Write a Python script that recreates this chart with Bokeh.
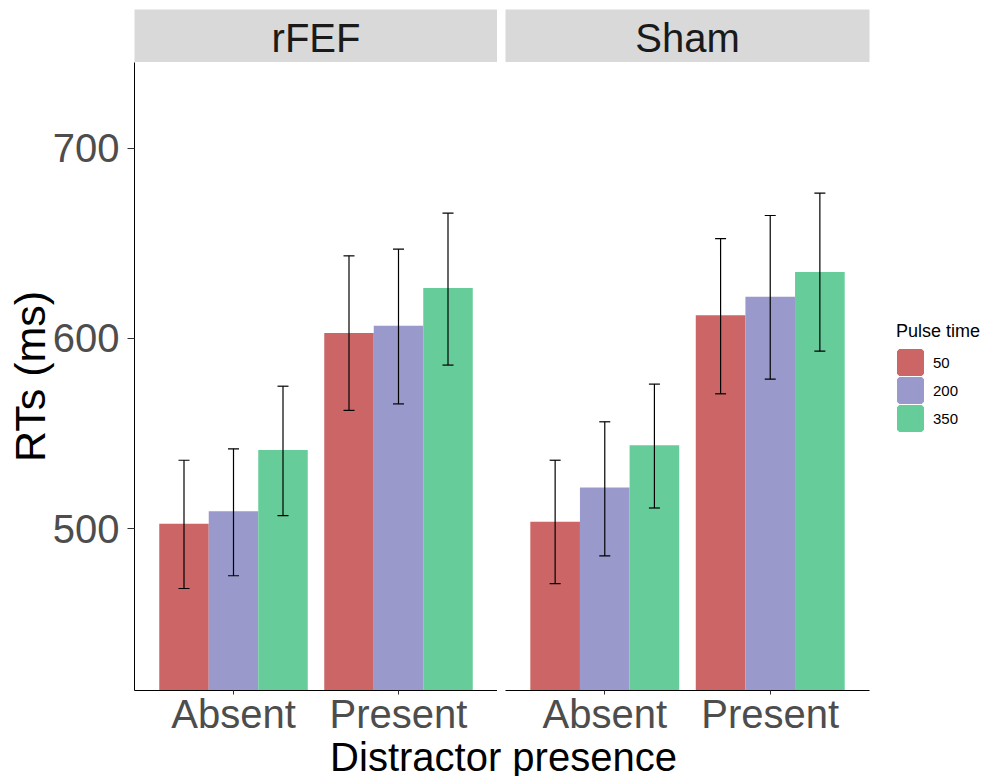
from bokeh.plotting import figure
from bokeh.models import (ColumnDataSource, FactorRange, Range1d, Whisker, TeeHead,
                          Legend, LegendItem)
from bokeh.transform import dodge
from bokeh.layouts import column, row
from bokeh.embed import file_html
from bokeh.resources import INLINE
from bokeh.core.properties import value

# ---------------- data ----------------
panels = ["rFEF", "Sham"]
distractor = ["Absent", "Present"]
pulse_times = ["50", "200", "350"]
pulse_colors = ["#CC6666", "#9999CC", "#66CC99"]
y_ticks = [500, 600, 700]
y_limits = [415, 745]

# mean RT per pulse time, values for [Absent, Present]
rfef_mean_50 = [502.6, 602.8]
rfef_mean_200 = [509.2, 606.7]
rfef_mean_350 = [541.4, 626.5]
rfef_upper_50 = [536.0, 643.4]
rfef_upper_200 = [542.0, 646.9]
rfef_upper_350 = [574.9, 665.8]
rfef_lower_50 = [468.6, 562.2]
rfef_lower_200 = [475.3, 565.6]
rfef_lower_350 = [506.9, 586.0]

sham_mean_50 = [503.7, 612.2]
sham_mean_200 = [521.7, 621.9]
sham_mean_350 = [543.9, 634.9]
sham_upper_50 = [536.0, 652.5]
sham_upper_200 = [556.2, 664.6]
sham_upper_350 = [576.0, 676.4]
sham_lower_50 = [471.2, 570.9]
sham_lower_200 = [485.7, 578.6]
sham_lower_350 = [510.9, 593.3]

panel_data = {
    "rFEF": ([rfef_mean_50, rfef_mean_200, rfef_mean_350],
             [rfef_upper_50, rfef_upper_200, rfef_upper_350],
             [rfef_lower_50, rfef_lower_200, rfef_lower_350]),
    "Sham": ([sham_mean_50, sham_mean_200, sham_mean_350],
             [sham_upper_50, sham_upper_200, sham_upper_350],
             [sham_lower_50, sham_lower_200, sham_lower_350]),
}

FONT = "Liberation Sans"
DODGE = [-0.3, 0.0, 0.3]
BAR_W = 0.3


def make_strip(text, frame_w, lb, rb):
    s = figure(x_range=Range1d(0, 1), y_range=Range1d(0, 1),
               frame_width=frame_w, frame_height=53,
               min_border_left=lb, min_border_right=rb,
               min_border_top=9, min_border_bottom=0,
               x_axis_type=None, y_axis_type=None,
               background_fill_color="#D9D9D9", border_fill_color="white",
               outline_line_color=None, toolbar_location=None, tools="",
               output_backend="svg")
    s.text(x=[0.5], y=[0.458], text=[text], text_align="center",
           text_baseline="alphabetic", text_font=value(FONT),
           text_font_size=value("40px"), text_color="#1A1A1A")
    return s


def make_panel(name, frame_w, lb, rb, show_y):
    means, uppers, lowers = panel_data[name]
    p = figure(x_range=FactorRange(factors=distractor, range_padding=0.1,
                                   range_padding_units="absolute"),
               y_range=Range1d(*y_limits),
               frame_width=frame_w, frame_height=628,
               min_border_left=lb, min_border_right=rb,
               min_border_top=0, min_border_bottom=46,
               background_fill_color="white", border_fill_color="white",
               outline_line_color=None, toolbar_location=None, tools="",
               output_backend="svg")
    p.xgrid.visible = False
    p.ygrid.visible = False
    legend_renderers = []
    for i, pt in enumerate(pulse_times):
        src = ColumnDataSource(dict(distractor=distractor, mean=means[i],
                                    upper=uppers[i], lower=lowers[i]))
        xd = dodge("distractor", DODGE[i], range=p.x_range)
        p.vbar(x=xd, top="mean", bottom=0, width=BAR_W, source=src,
               fill_color=pulse_colors[i], line_color=None)
        # same bars, hidden, only used to draw a full-size legend key
        lr = p.vbar(x=xd, top="mean", bottom=0, width=BAR_W, source=src,
                    fill_color=pulse_colors[i], line_color=pulse_colors[i],
                    line_width=4.6, visible=False)
        legend_renderers.append(lr)
        w = Whisker(source=src, base=dodge("distractor", DODGE[i], range=p.x_range),
                    upper="upper", lower="lower", level="annotation",
                    line_color="black", line_width=1.2,
                    upper_head=TeeHead(size=11, line_color="black", line_width=1.2),
                    lower_head=TeeHead(size=11, line_color="black", line_width=1.2))
        p.add_layout(w)

    ax = p.xaxis[0]
    ax.axis_line_color = "black"
    ax.axis_line_width = 1
    ax.major_tick_line_color = "#333333"
    ax.major_tick_out = 4
    ax.major_tick_in = 0
    ax.minor_tick_line_color = None
    ax.major_label_text_font = FONT
    ax.major_label_text_font_size = "40px"
    ax.major_label_text_color = "#4D4D4D"
    ax.major_label_standoff = -3

    ay = p.yaxis[0]
    ay.ticker = y_ticks
    if show_y:
        ay.axis_line_color = "black"
        ay.axis_line_width = 1
        ay.major_tick_line_color = "#333333"
        ay.major_tick_out = 7
        ay.major_tick_in = 0
        ay.minor_tick_line_color = None
        ay.major_label_text_font = FONT
        ay.major_label_text_font_size = "40px"
        ay.major_label_text_color = "#4D4D4D"
        ay.major_label_standoff = 8
        ay.axis_label = "RTs (ms)"
        ay.axis_label_text_font = FONT
        ay.axis_label_text_font_size = "43px"
        ay.axis_label_text_font_style = "normal"
        ay.axis_label_text_color = "black"
        ay.axis_label_standoff = -4
    else:
        ay.visible = False
    return p, legend_renderers


s1 = make_strip("rFEF", 363, 134, 0)
s2 = make_strip("Sham", 364, 8, 117)
p1, _ = make_panel("rFEF", 363, 134, 0, True)
p2, rends = make_panel("Sham", 364, 8, 117, False)

legend = Legend(items=[LegendItem(label=value(pt), renderers=[r])
                       for pt, r in zip(pulse_times, rends)],
                title="Pulse time", location=(27, 258), orientation="vertical",
                padding=0, margin=0, spacing=0, click_policy="none",
                glyph_width=28, glyph_height=28, label_standoff=9,
                label_text_font=FONT, label_text_font_size="15px",
                label_text_color="black",
                title_text_font=FONT, title_text_font_size="18px",
                title_text_font_style="normal", title_text_color="black",
                title_standoff=6,
                border_line_color=None, background_fill_alpha=0)
p2.add_layout(legend, "right")

b = figure(x_range=Range1d(0, 986), y_range=Range1d(0, 40),
           frame_width=986, frame_height=40,
           min_border_left=0, min_border_right=0, min_border_top=0, min_border_bottom=0,
           x_axis_type=None, y_axis_type=None, outline_line_color=None,
           toolbar_location=None, tools="", output_backend="svg")
b.text(x=[503], y=[22], text=["Distractor presence"], text_align="center",
       text_baseline="alphabetic", text_font=value(FONT),
       text_font_size=value("40px"), text_color="black")

layout = column(row(s1, s2), row(p1, p2), b)

open("out.html", "w").write(file_html(layout, INLINE))
